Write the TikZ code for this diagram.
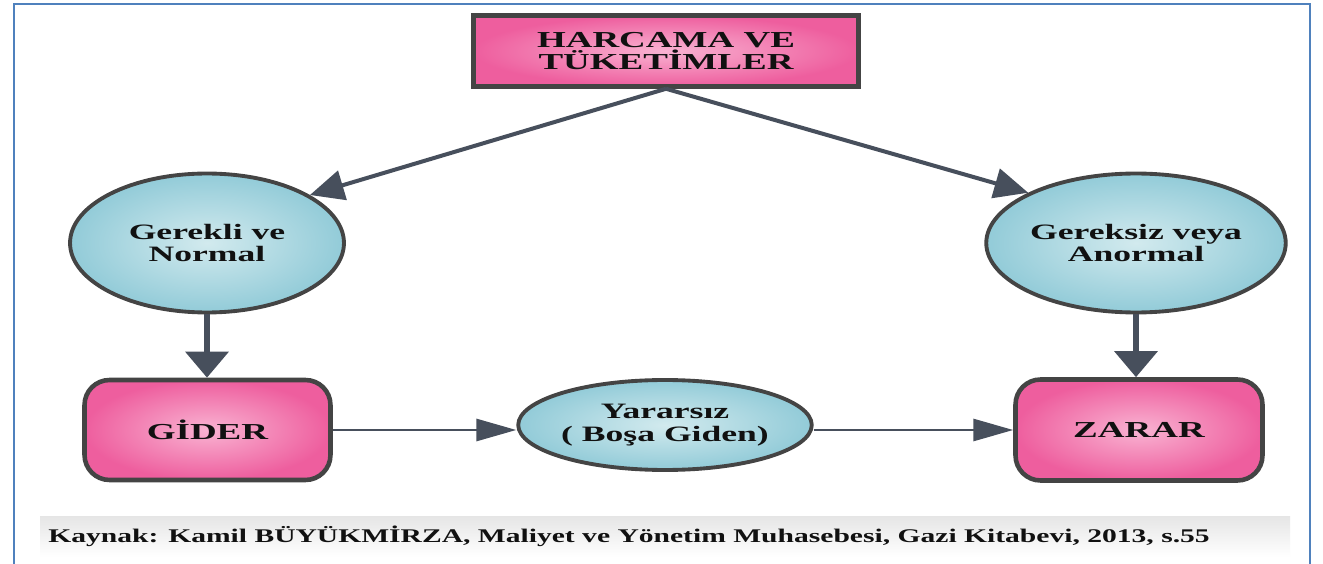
\documentclass[tikz,border=0pt]{standalone}
\usepackage{fontspec}
\usetikzlibrary{shapes.geometric,arrows.meta}
\newfontfamily\diafont[FakeStretch=1.62]{Liberation Serif}
\newfontfamily\capfont[FakeStretch=1.53]{Liberation Serif}
\definecolor{frameblue}{HTML}{4F81BD}
\definecolor{edgegray}{HTML}{444444}
\definecolor{arrowgray}{HTML}{474F5C}
\definecolor{pinkin}{HTML}{F9B3D2}
\definecolor{pinkout}{HTML}{EE5E9E}
\definecolor{bluein}{HTML}{D2EAEE}
\definecolor{blueout}{HTML}{92CBD8}
\definecolor{textblack}{HTML}{111111}
\tikzset{
  pinkbox/.style={draw=edgegray, line width=2.6pt, inner color=pinkin, outer color=pinkout,
    align=center, text=textblack, font=\diafont\bfseries\fontsize{13}{12.5}\selectfont},
  blueell/.style={ellipse, draw=edgegray, line width=2.2pt, inner color=bluein, outer color=blueout,
    align=center, text=textblack, inner sep=0pt, font=\diafont\bfseries\fontsize{12.5}{12.8}\selectfont},
  flowdiag/.style={draw=arrowgray, line width=0.08cm, -{Triangle[length=0.68cm,width=0.6cm]}},
  flowdown/.style={draw=arrowgray, line width=0.13cm, -{Triangle[length=0.52cm,width=0.84cm]}},
  flowright/.style={draw=arrowgray, line width=0.06cm, -{Triangle[length=0.8cm,width=0.44cm]}},
}
\begin{document}
\begin{tikzpicture}[x=0.02cm,y=-0.02cm]
\useasboundingbox (0,0) rectangle (1323,564);
\fill[white] (0,0) rectangle (1323,564);
% outer frame
\draw[frameblue, line width=1.2pt] (14,570) -- (14,4) -- (1310,4) -- (1310,570);
% caption band
\shade[top color=black!10, bottom color=white] (40,516) rectangle (1290,557);
\node[anchor=base west, inner sep=0pt, text=textblack, font=\capfont\bfseries\fontsize{11}{12}\selectfont] (cap) at (48,542)
  {Kaynak: Kamil BÜYÜKMİRZA, Maliyet ve Yönetim Muhasebesi, Gazi Kitabevi, 2013, s.55};
% nodes
\node[pinkbox, minimum width=7.7cm, minimum height=1.42cm] (top) at (666,51) {HARCAMA VE\\TÜKETİMLER};
\node[blueell, minimum width=5.48cm, minimum height=2.78cm] (left) at (207,243) {Gerekli ve\\Normal};
\node[blueell, minimum width=5.46cm, minimum height=2.78cm] (right) at (1136,243) {Gereksiz veya\\Anormal};
\node[pinkbox, rounded corners=0.5cm, minimum width=4.92cm, minimum height=2.0cm] (gider) at (207.5,430) {GİDER};
\node[pinkbox, rounded corners=0.5cm, minimum width=4.94cm, minimum height=2.02cm] (zarar) at (1139,430) {ZARAR};
\node[blueell, minimum width=5.4cm, minimum height=1.8cm] (yar) at (665,425) {Yararsız\\( Boşa Giden)};
% connectors
\draw[flowdiag] (top.south) -- (left.25);
\draw[flowdiag] (top.south) -- (right.155);
\draw[flowdown] (left.south) -- (left.south |- gider.north);
\draw[flowdown] (right.south) -- (right.south |- zarar.north);
\draw[flowright] (gider.east) -- (gider.east -| yar.west);
\draw[flowright] (yar.east |- zarar.west) -- (zarar.west);
\end{tikzpicture}
\end{document}
